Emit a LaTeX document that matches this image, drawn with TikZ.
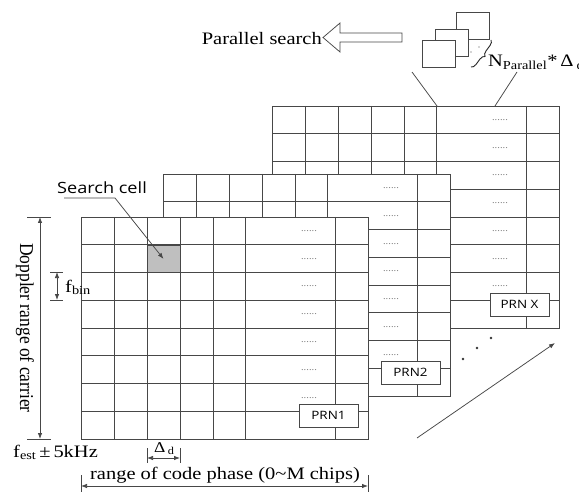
\documentclass[tikz,border=0pt]{standalone}
\usepackage{fontspec}
\setmainfont{Liberation Serif}[FakeStretch=1.17]
\newfontfamily\plainserif{Liberation Serif}
\newfontfamily\uisans{Open Sans}[FakeStretch=1.17]
\usetikzlibrary{arrows.meta,decorations.pathreplacing}

\tikzset{
  gl/.style={draw=black!72, line width=0.75pt},
  dimarr/.style={draw=black!72, line width=0.75pt, {Latex[length=6pt,width=4.5pt]}-{Latex[length=6pt,width=4.5pt]}},
  onearr/.style={draw=black!72, line width=0.75pt, -{Latex[length=6pt,width=4.5pt]}},
  prnbox/.style={draw=black!72, line width=0.75pt, fill=white, minimum width=59pt, minimum height=23pt, inner sep=0pt, font=\uisans\fontsize{11.5}{12}\selectfont},
  rowdots/.style={inner sep=0pt, anchor=base, text=black!55, font=\fontsize{9}{9}\selectfont},
  serif/.style={inner sep=0pt, font=\fontsize{17.5}{20}\selectfont},
  sqbox/.style={draw=black!72, line width=0.75pt, fill=white, minimum width=33pt, minimum height=27pt, inner sep=0pt},
  bigdot/.style={circle, fill=black!80, inner sep=0pt, minimum size=2.6pt},
}

% #1 dx, #2 dy, #3 label, #4 name
\newcommand{\prngrid}[4]{%
  \begin{scope}[shift={(#1,#2)}]
    \fill[white] (81,217) rectangle (368,439);
    \foreach \xx in {114,147,180,213,245,335} \draw[gl] (\xx,217) -- (\xx,439);
    \foreach \ii in {1,...,7} \draw[gl] (81,{217+\ii*27.75}) -- (368,{217+\ii*27.75});
    \draw[gl] (81,217) rectangle (368,439);
    \foreach \ii in {0,...,6} \node[rowdots] (#4d\ii) at (309,{217+\ii*27.75+14.5}) {......};
    \node[prnbox] (#4) at (328.5,415.5) {#3};
  \end{scope}}

\begin{document}
\begin{tikzpicture}[x=1pt,y=-1pt]
\useasboundingbox (0,0) rectangle (579,492);
\fill[white] (0,0) rectangle (579,492);

% grids, back to front
\prngrid{191}{-111}{PRN X}{prnx}
\prngrid{82}{-43}{PRN2}{prn2}
\prngrid{0}{0}{PRN1}{prn1}

% search cell
\node[draw=black!72, line width=0.75pt, fill=black!25, minimum width=33pt, minimum height=27.75pt, inner sep=0pt] (cell) at (163.5,258.9) {};
\node[inner sep=0pt, anchor=base, font=\uisans\fontsize{15.5}{18}\selectfont] (sc) at (102,194) {Search cell};
\coordinate (ul1) at (64,198);
\coordinate (ul2) at (115,198);
\draw[onearr] (ul1) -- (ul2) -- (cell.center);

% Doppler range
\coordinate (dt1) at (27,217); \coordinate (dt2) at (51,217);
\coordinate (db1) at (27,439); \coordinate (db2) at (51,439);
\coordinate (dtop) at (40,217); \coordinate (dbot) at (40,439);
\draw[gl] (dt1) -- (dt2);
\draw[gl] (db1) -- (db2);
\draw[dimarr] (dtop) -- (dbot);
\node[inner sep=0pt] (dop) at (25,328) {\scalebox{1.12}[1]{\rotatebox{-90}{\plainserif\fontsize{17.5}{20}\selectfont Doppler range of carrier}}};

% f_bin
\coordinate (ft1) at (50,272); \coordinate (ft2) at (63,272);
\coordinate (fb1) at (50,300); \coordinate (fb2) at (63,300);
\coordinate (fa1) at (57,272); \coordinate (fa2) at (57,300);
\draw[gl] (ft1) -- (ft2);
\draw[gl] (fb1) -- (fb2);
\draw[dimarr] (fa1) -- (fa2);
\node[serif, anchor=base west] (fbin) at (65,292) {f\textsubscript{bin}};

% f_est
\node[serif, anchor=base west] (fest) at (13,457) {f\textsubscript{est}\,±\,5kHz};

% Delta_d
\coordinate (dl1) at (147,448); \coordinate (dl2) at (147,463);
\coordinate (dr1) at (180,448); \coordinate (dr2) at (180,463);
\coordinate (da1) at (147,458); \coordinate (da2) at (180,458);
\draw[gl] (dl1) -- (dl2);
\draw[gl] (dr1) -- (dr2);
\draw[dimarr] (da1) -- (da2);
\node[inner sep=0pt, anchor=base west, font=\fontsize{15}{17}\selectfont] (dd) at (154,452) {Δ\,\textsubscript{d}};

% code phase range
\coordinate (cl1) at (81,475); \coordinate (cl2) at (81,495);
\coordinate (cr1) at (368,475); \coordinate (cr2) at (368,495);
\coordinate (ca1) at (81,486); \coordinate (ca2) at (368,486);
\draw[gl] (cl1) -- (cl2);
\draw[gl] (cr1) -- (cr2);
\draw[dimarr] (ca1) -- (ca2);
\node[serif, anchor=base] (cp) at (225,479) {range of code phase (0\char"007E M chips)};

% dots between grids and arrow
\node[bigdot] (p1) at (463,359) {};
\node[bigdot] (p2) at (477,348) {};
\node[bigdot] (p3) at (491,338) {};
\coordinate (ar1) at (417,438);
\coordinate (ar2) at (555,343);
\draw[onearr] (ar1) -- (ar2);

% parallel search
\node[serif, anchor=base east] (ps) at (322,45) {Parallel search};
\draw[draw=black!72, line width=0.75pt, fill=white] (323,37.5) -- (340,23) -- (340,33) -- (402,33) -- (402,42) -- (340,42) -- (340,52) -- cycle;

% stacked squares
\node[sqbox] (sq3) at (473,25.5) {};
\node[sqbox] (sq2) at (451.5,42.5) {};
\node[sqbox] (sq1) at (439,54) {};
\fill[black!70] (471,52) circle (0.6);
\fill[black!70] (479,47) circle (0.6);
\draw[black!85, line width=0.9pt, decorate, decoration={brace, amplitude=5pt}] (491,40) -- (471,67);
\node[serif, anchor=base west] (np) at (488,67) {N\textsubscript{Parallel}*\,Δ\,\textsubscript{d}};

% zoom lines
\coordinate (zl1) at (412,72); \coordinate (zl2) at (437,106);
\coordinate (zr1) at (517,72); \coordinate (zr2) at (495,106);
\draw[gl] (zl1) -- (zl2);
\draw[gl] (zr1) -- (zr2);
\end{tikzpicture}
\end{document}
